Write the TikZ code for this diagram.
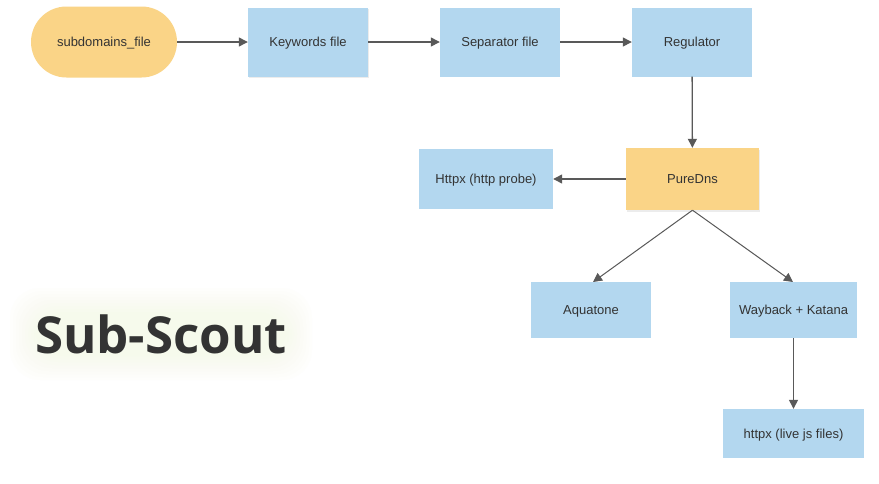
\documentclass[tikz,border=0pt]{standalone}
\usepackage{fontspec}
\setmainfont{Liberation Sans}
\newfontfamily\titlefont{Open Sans}
\usetikzlibrary{arrows.meta,shadows,positioning}
\definecolor{boxblue}{HTML}{B3D7EF}
\definecolor{boxorange}{HTML}{FAD487}
\definecolor{txt}{HTML}{333333}
\definecolor{linec}{HTML}{595959}
\definecolor{glow}{HTML}{F4FAD8}
\begin{document}
\begin{tikzpicture}[x=1pt,y=-1pt,
  base/.style={inner sep=0pt, text=txt, font=\fontsize{13}{15}\selectfont, align=center, text height=9.3pt, text depth=0pt},
  bluebox/.style={base, fill=boxblue, minimum width=#1},
  orangebox/.style={base, fill=boxorange},
  softshadow/.style={drop shadow={opacity=0.15, shadow xshift=1pt, shadow yshift=-1.5pt}},
  conn/.style={draw=linec, line width=1.3pt, -{Triangle[length=9pt,width=9pt]}}
]
\useasboundingbox (0,0) rectangle (879,483);
\fill[white] (0,0) rectangle (879,483);

% title glow
\foreach \i in {0,3,...,24}{
  \fill[glow, opacity=0.055, rounded corners=30pt] (10+\i,288+\i) rectangle (312-\i,380-\i);
}
\node[inner sep=0pt, text=txt] (title) at (161,334) {\titlefont\bfseries\fontsize{51}{60}\selectfont Sub-Scout};

\node[orangebox, minimum width=146pt, minimum height=71pt, rounded corners=35.5pt] (sub) at (104,42) {subdomains\_file};
\node[bluebox=120pt, minimum height=69pt, softshadow] (kw) at (308,42) {Keywords file};
\node[bluebox=120pt, minimum height=69pt] (sep) at (500,42) {Separator file};
\node[bluebox=120pt, minimum height=69pt] (reg) at (692,42) {Regulator};
\node[orangebox, minimum width=133pt, minimum height=62pt, softshadow] (pd) at (692.5,179) {PureDns};
\node[bluebox=134pt, minimum height=60pt] (hx) at (486,179) {Httpx (http probe)};
\node[bluebox=120pt, minimum height=56pt] (aq) at (591,310) {Aquatone};
\node[bluebox=127pt, minimum height=56pt] (wk) at (793.5,310) {Wayback + Katana};
\node[bluebox=141pt, minimum height=49pt] (js) at (793.5,433.5) {httpx (live js files)};

\coordinate (aqt) at (593,282);
\coordinate (wkt) at (793,282);

\draw[conn] (sub) -- (kw);
\draw[conn] (kw) -- (sep);
\draw[conn] (sep) -- (reg);
\draw[conn] (reg) -- (pd);
\draw[conn] (pd) -- (hx);
\draw[conn, line width=1pt] (pd.south) -- (aqt);
\draw[conn, line width=1pt] (pd.south) -- (wkt);
\draw[conn] (wk) -- (js);
\end{tikzpicture}
\end{document}
